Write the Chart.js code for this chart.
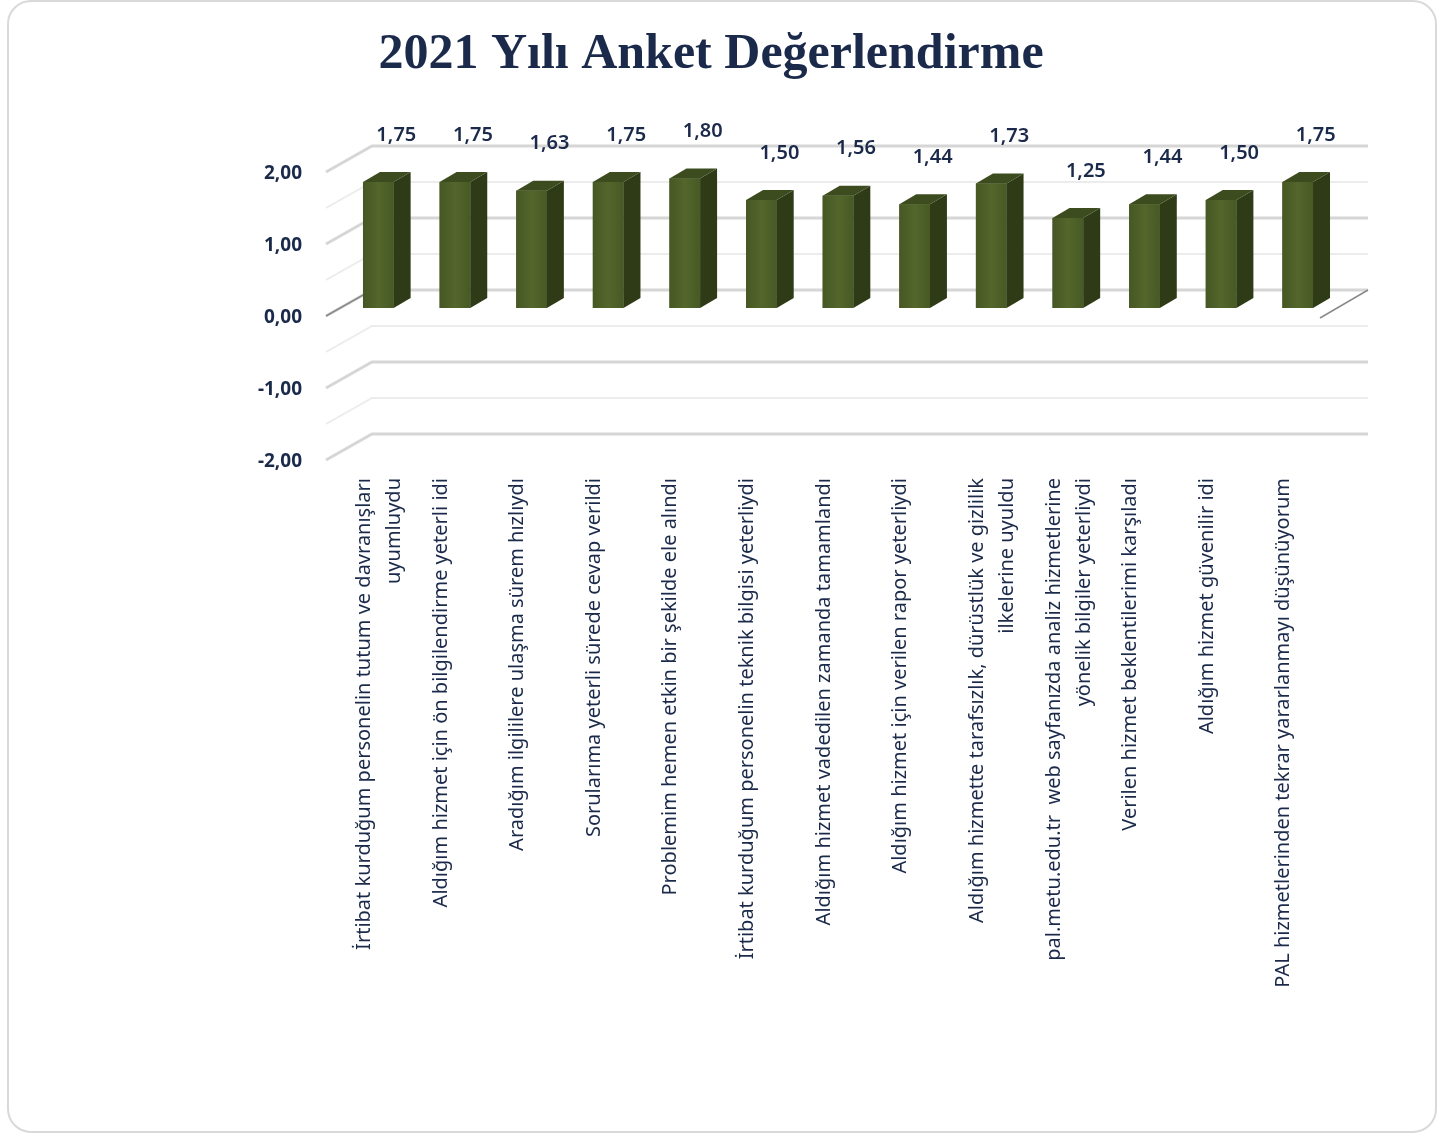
<!DOCTYPE html>
<html>
<head>
<meta charset="utf-8">
<script src="https://cdn.jsdelivr.net/npm/chart.js@4.4.1/dist/chart.umd.min.js"></script>
<style>
  body { margin: 0; background: #fff; }
  #cerceve { position: absolute; left: 7px; top: 0; width: 1426px; height: 1129px; border: 2px solid #d9d9d9; border-radius: 24px; }
  #kutu { position: absolute; left: 0; top: 0; width: 1445px; height: 1133px; }
</style>
</head>
<body>
<div id="cerceve"></div>
<div id="kutu"><canvas id="grafik"></canvas></div>
<script>
const sorular = [
  ["İrtibat kurduğum personelin tutum ve davranışları", "uyumluydu"],
  "Aldığım hizmet için ön bilgilendirme yeterli idi",
  "Aradığım ilgililere ulaşma sürem hızlıydı",
  "Sorularıma yeterli sürede cevap verildi",
  "Problemim hemen etkin bir şekilde ele alındı",
  "İrtibat kurduğum personelin teknik bilgisi yeterliydi",
  "Aldığım hizmet vadedilen zamanda tamamlandı",
  "Aldığım hizmet için verilen rapor yeterliydi",
  ["Aldığım hizmette tarafsızlık, dürüstlük ve gizlilik", "ilkelerine uyuldu"],
  ["pal.metu.edu.tr  web sayfanızda analiz hizmetlerine", "yönelik bilgiler yeterliydi"],
  "Verilen hizmet beklentilerimi karşıladı",
  "Aldığım hizmet güvenilir idi",
  "PAL hizmetlerinden tekrar yararlanmayı düşünüyorum",
];
const ortalamalar = [1.75, 1.75, 1.63, 1.75, 1.80, 1.50, 1.56, 1.44, 1.73, 1.25, 1.44, 1.50, 1.75];
const eksenDegerleri = [-2, -1, 0, 1, 2];

const lacivert = "#1b2a4a";
const virgullu = (v) => Number(v).toFixed(2).replace(".", ",");

// 3B görünüm: arka duvar, sol duvar ve zemin çizgileri
const duvarlar = {
  id: "duvarlar",
  beforeDatasetsDraw(chart) {
    const { ctx, chartArea: a, scales: { y } } = chart;
    ctx.save();
    for (let v = y.min; v <= y.max + 1e-9; v += 0.5) {
      const p = y.getPixelForValue(v);
      const ana = Math.abs(v - Math.round(v)) < 1e-9;
      ctx.strokeStyle = ana ? "#d6d6d6" : "#ececec";
      ctx.lineWidth = ana ? 3 : 2;
      ctx.beginPath();
      ctx.moveTo(a.left - 14, p + 8);
      ctx.lineTo(a.left + 32, p - 18);
      ctx.lineTo(a.right + 32, p - 18);
      ctx.stroke();
    }
    const z = y.getPixelForValue(0);
    ctx.strokeStyle = "#8a8a8a";
    ctx.lineWidth = 1.5;
    ctx.beginPath();
    ctx.moveTo(a.left - 14, z + 8);
    ctx.lineTo(a.left + 32, z - 18);
    ctx.stroke();
    ctx.beginPath();
    ctx.moveTo(a.right - 16, z + 10);
    ctx.lineTo(a.right + 32, z - 18);
    ctx.stroke();
    ctx.restore();
  },
};

// çubukların yan ve üst yüzleri + değer etiketleri
const cubuk3b = {
  id: "cubuk3b",
  afterDatasetsDraw(chart) {
    const { ctx } = chart;
    const meta = chart.getDatasetMeta(0);
    const dx = 17, dy = 10;
    ctx.save();
    meta.data.forEach((bar, i) => {
      const { x, y, base, width } = bar.getProps(["x", "y", "base", "width"], true);
      const sol = x - width / 2, sag = x + width / 2;
      const on = ctx.createLinearGradient(sol, 0, sag, 0);
      on.addColorStop(0, "#465724");
      on.addColorStop(0.5, "#53662b");
      on.addColorStop(1, "#485a25");
      ctx.fillStyle = on;
      ctx.fillRect(sol, y, width, base - y);
      ctx.fillStyle = "#2f3b17";
      ctx.beginPath();
      ctx.moveTo(sag, y);
      ctx.lineTo(sag + dx, y - dy);
      ctx.lineTo(sag + dx, base - dy);
      ctx.lineTo(sag, base);
      ctx.closePath();
      ctx.fill();
      ctx.fillStyle = "#3d4c1e";
      ctx.beginPath();
      ctx.moveTo(sol, y);
      ctx.lineTo(sol + dx, y - dy);
      ctx.lineTo(sag + dx, y - dy);
      ctx.lineTo(sag, y);
      ctx.closePath();
      ctx.fill();

      ctx.fillStyle = lacivert;
      ctx.font = '600 20px "Noto Sans"';
      ctx.textAlign = "center";
      ctx.textBaseline = "middle";
      ctx.fillText(virgullu(ortalamalar[i]), x + 18, y - 47);
    });
    ctx.restore();
  },
};

new Chart(document.getElementById("grafik"), {
  type: "bar",
  data: {
    labels: sorular,
    datasets: [
      {
        label: "Ortalama",
        data: ortalamalar,
        backgroundColor: "#4f6228",
        borderWidth: 0,
        barPercentage: 0.4,
        categoryPercentage: 1,
      },
    ],
  },
  plugins: [duvarlar, cubuk3b],
  options: {
    responsive: true,
    maintainAspectRatio: false,
    animation: false,
    layout: { padding: { left: 86, right: 109, top: 0, bottom: 0 } },
    plugins: {
      legend: { display: false },
      tooltip: { enabled: false },
      title: {
        display: true,
        text: "2021 Yılı Anket Değerlendirme",
        color: lacivert,
        font: { family: "Liberation Serif", size: 50, weight: "bold", lineHeight: 1.2 },
        padding: { top: 25, bottom: 79 },
      },
    },
    scales: {
      y: {
        min: Math.min(...eksenDegerleri),
        max: Math.max(...eksenDegerleri),
        afterFit(scale) { scale.width = 254; },
        afterBuildTicks(scale) { scale.ticks = eksenDegerleri.map((v) => ({ value: v })); },
        grid: { display: false, drawTicks: false },
        border: { display: false },
        ticks: {
          padding: 38,
          labelOffset: 10,
          color: lacivert,
          font: { family: "Noto Sans", size: 19, weight: "bold" },
          callback: (v) => virgullu(v),
        },
      },
      x: {
        afterFit(scale) { scale.height = 681; },
        grid: { display: false, drawTicks: false },
        border: { display: false },
        ticks: {
          padding: 26,
          labelOffset: -14,
          minRotation: 90,
          maxRotation: 90,
          autoSkip: false,
          color: lacivert,
          font: { family: "Noto Sans", size: 20, lineHeight: 1.5 },
        },
      },
    },
  },
});
</script>
</body>
</html>
